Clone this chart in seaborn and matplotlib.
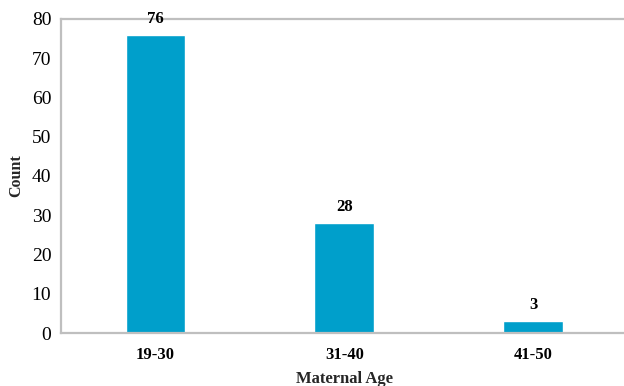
import matplotlib
matplotlib.use("Agg")
import matplotlib.pyplot as plt
import seaborn as sns
import pandas as pd

age_groups = ["19-30", "31-40", "41-50"]
counts = [76, 28, 3]
y_ticks = [0, 10, 20, 30, 40, 50, 60, 70, 80]

sns.set_theme(style="white")
plt.rcParams["font.family"] = ["Liberation Serif", "DejaVu Serif"]

df = pd.DataFrame({"Maternal Age": age_groups, "Count": counts})

fig = plt.figure(figsize=(6.24, 3.86), dpi=100)
ax = fig.add_axes([0.0978, 0.1373, 0.9078, 0.8135])

sns.barplot(data=df, x="Maternal Age", y="Count", color="#009fcb",
            saturation=1, width=0.317, ax=ax)

# value labels above each bar
for i, v in enumerate(counts):
    ax.text(i, v + 2.0, str(v), ha="center", va="bottom",
            fontsize=12, fontweight="bold", color="black")

ax.set_xlim(-0.5, 2.5)
ax.set_ylim(0, 80)
ax.set_yticks(y_ticks)
ax.tick_params(axis="y", labelsize=14, length=0, pad=7, colors="black")
ax.tick_params(axis="x", labelsize=12, length=0, pad=10, colors="black")
for lbl in ax.get_xticklabels():
    lbl.set_fontweight("bold")

ax.set_xlabel("Maternal Age", fontsize=12, fontweight="bold", labelpad=6)
ax.set_ylabel("Count", fontsize=11.5, fontweight="bold", labelpad=5)

for side in ["left", "bottom", "top"]:
    ax.spines[side].set_visible(True)
    ax.spines[side].set_color("#bfbfbf")
    ax.spines[side].set_linewidth(1.6)
ax.spines["right"].set_visible(False)

fig.savefig("out.png", dpi=100)
